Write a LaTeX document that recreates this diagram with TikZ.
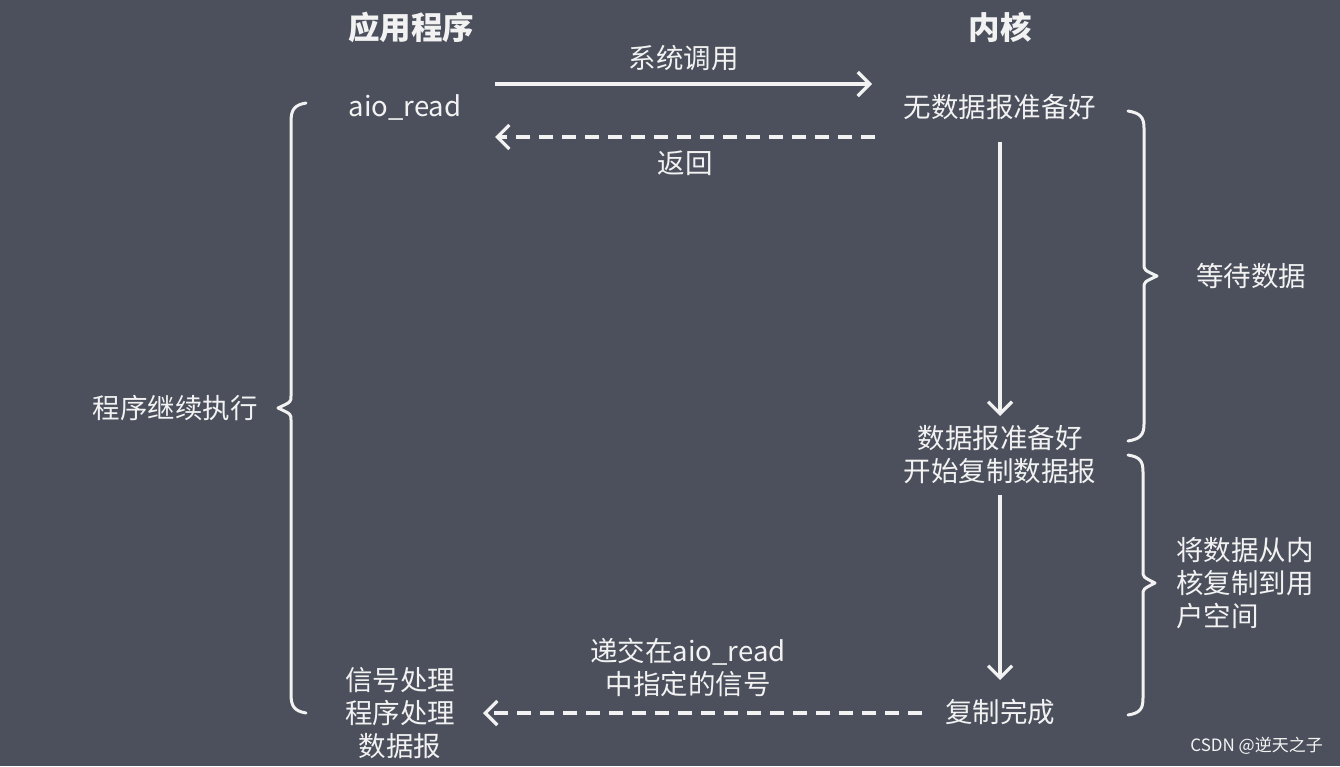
\documentclass[tikz,border=0pt]{standalone}
\usepackage{fontspec}
\setmainfont{Noto Sans CJK SC}
\usetikzlibrary{arrows.meta}
\definecolor{bg}{RGB}{76,80,92}
\definecolor{fg}{RGB}{242,242,242}
\tikzset{
  txt/.style={text=fg, font=\fontsize{27.5}{33}\selectfont, inner sep=0pt, align=center},
  ttl/.style={text=fg, font=\fontsize{31.5}{36}\selectfont\bfseries, inner sep=0pt},
  arr/.style={draw=fg, line width=3.2pt, -{Straight Barb[length=12pt,width=24pt,line width=3.2pt]}},
  darr/.style={arr, dash pattern=on 14pt off 9pt},
  brc/.style={draw=fg, line width=3pt, line cap=round, line join=round},
}
\begin{document}
\begin{tikzpicture}[x=1pt,y=-1pt]
\fill[bg] (0,0) rectangle (1340,766);
\useasboundingbox (0,0) rectangle (1340,766);
% titles
\node[ttl] (app) at (411,27) {应用程序};
\node[ttl] (ker) at (1000,27) {内核};
% nodes
\node[txt] (aio) at (405,107) {aio\_read};
\node[txt] (nodata) at (1000,107) {无数据报准备好};
\node[txt] (ready) at (1000,455) {数据报准备好\\开始复制数据报};
\node[txt] (done) at (1000,712) {复制完成};
\node[txt] (sig) at (400,713) {信号处理\\程序处理\\数据报};
% arrows
\coordinate (a1s) at (495,84);
\coordinate (a1e) at (872,84);
\draw[arr] (a1s) -- node[txt, above=12pt] (lcall) {系统调用} (a1e);
\coordinate (a2s) at (875,137);
\coordinate (a2e) at (495,137);
\draw[darr] (a2s) -- node[txt, below=12pt] (lret) {返回} (a2e);
\draw[arr] (nodata.south |- 0,142) coordinate (v1s) -- (1000,416) coordinate (v1e);
\draw[arr] (1000,495) coordinate (v2s) -- (1000,680) coordinate (v2e);
\draw[darr] (922,713) coordinate (a3s) -- (483,713) coordinate (a3e);
\node[txt] (lsig) at (688,667) {递交在aio\_read\\中指定的信号};
% left brace
\draw[brc] (306,103) .. controls (294,105) and (291,110) .. (291,122)
  -- (291,396) .. controls (291,402) .. (278,408) .. controls (291,414) .. (291,420)
  -- (291,694) .. controls (291,706) and (294,711) .. (306,713);
\node[txt, anchor=east] (cont) at (258,408) {程序继续执行};
% right brace 1
\draw[brc] (1128,111) .. controls (1140,113) and (1144,117) .. (1144,128)
  -- (1144,264) .. controls (1144,270) .. (1157,276) .. controls (1144,282) .. (1144,288)
  -- (1144,424) .. controls (1144,435) and (1140,439) .. (1128,441);
\node[txt, anchor=west] (wait) at (1196,276) {等待数据};
% right brace 2
\draw[brc] (1128,455) .. controls (1140,457) and (1143,461) .. (1143,472)
  -- (1143,571) .. controls (1143,577) .. (1155,583) .. controls (1143,589) .. (1143,595)
  -- (1143,698) .. controls (1143,709) and (1140,713) .. (1128,715);
\node[txt, anchor=west, align=left] (copy) at (1176,583) {将数据从内\\核复制到用\\户空间};
% watermark
\node[text=fg!85, font=\fontsize{17}{20}\selectfont, inner sep=0pt, anchor=east] (wm) at (1323,746) {CSDN @逆天之子};
\end{tikzpicture}
\end{document}
